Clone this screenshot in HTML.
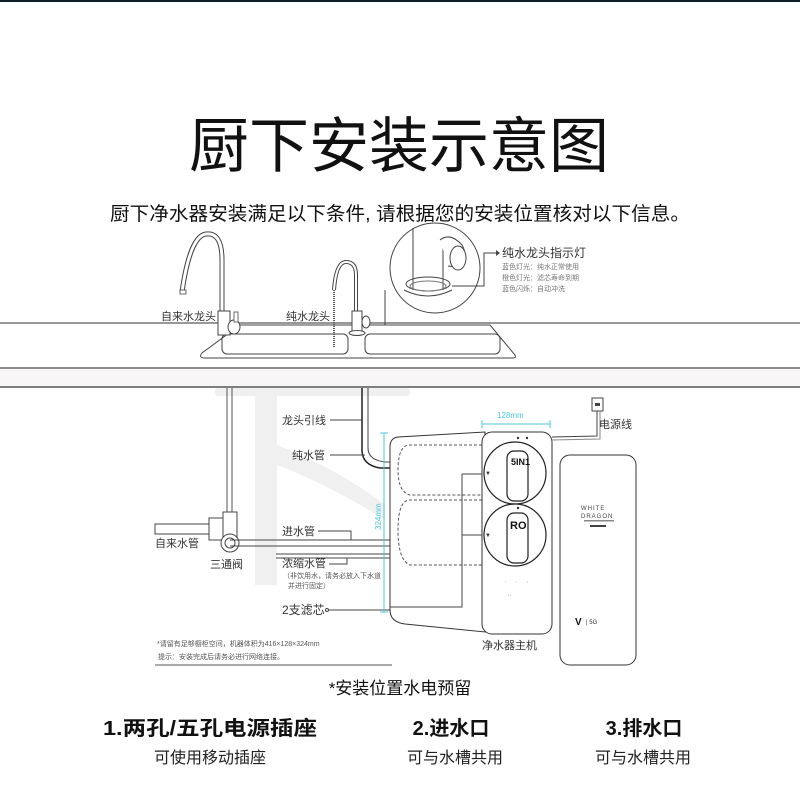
<!DOCTYPE html>
<html><head><meta charset="utf-8"><style>
html,body{margin:0;padding:0;background:#fff;}
svg{display:block;}
text{font-family:"Liberation Sans","Noto Sans CJK SC",sans-serif;}
</style></head><body>
<svg width="800" height="800" viewBox="0 0 800 800" xmlns="http://www.w3.org/2000/svg">
<rect width="800" height="800" fill="#fff"/>
<rect x="0" y="0" width="800" height="2" fill="#0d1f2a"/>
<text x="399" y="167" font-size="60" text-anchor="middle" fill="#111" textLength="420" lengthAdjust="spacingAndGlyphs">厨下安装示意图</text>
<text x="400" y="220" font-size="19" text-anchor="middle" fill="#111" textLength="580" lengthAdjust="spacingAndGlyphs">厨下净水器安装满足以下条件, 请根据您的安装位置核对以下信息。</text>

<!-- watermark 下 -->
<g fill="#f0f0f0">
<rect x="215" y="388" width="195" height="8" rx="3"/>
<rect x="255" y="390" width="22" height="195"/>
<path d="M277 445 Q340 470 385 505 L385 520 Q330 485 277 465 Z"/>
</g>

<!-- countertop -->
<line x1="0" y1="323" x2="800" y2="323" stroke="#777" stroke-width="1.5"/>
<rect x="0" y="368" width="800" height="19" fill="#f8f6f6"/>
<line x1="0" y1="368" x2="800" y2="368" stroke="#666" stroke-width="1.5"/>
<line x1="0" y1="387" x2="800" y2="387" stroke="#555" stroke-width="1.5"/>
<!-- sink -->
<path d="M240 325 L490 325 L515 355 Q517 358 512 358 L205 358 Q198 358 202 353 Z" fill="#fff" stroke="#444" stroke-width="1"/>
<rect x="222" y="334" width="126" height="20" rx="5" fill="none" stroke="#444" stroke-width="1"/>
<rect x="365" y="334" width="135" height="20" rx="5" fill="none" stroke="#444" stroke-width="1"/>
<!-- left faucet -->
<path d="M222 312 L222 260 Q222 232 206 234 Q190 236 182 292" fill="none" stroke="#444" stroke-width="5"/>
<path d="M222 312 L222 260 Q222 232 206 234 Q190 236 182 292" fill="none" stroke="#fff" stroke-width="3"/>
<rect x="180" y="290" width="6" height="4" fill="#fff" stroke="#444" stroke-width="0.8"/>
<rect x="218" y="311" width="12" height="24" fill="#fff" stroke="#444" stroke-width="1"/>
<ellipse cx="234" cy="327" rx="6" ry="7" fill="#fff" stroke="#444"/>
<rect x="234" y="312" width="4" height="10" fill="#fff" stroke="#444" stroke-width="0.8"/>
<text x="161" y="320" font-size="11" fill="#333">自来水龙头</text>
<!-- pure faucet -->
<path d="M356 312 L356 275 Q356 262 346 262 Q336 262 334 290" fill="none" stroke="#444" stroke-width="4"/>
<path d="M356 312 L356 275 Q356 262 346 262 Q336 262 334 290" fill="none" stroke="#fff" stroke-width="2"/>
<line x1="334" y1="290" x2="334" y2="347" stroke="#555" stroke-width="2" stroke-dasharray="1 1"/>
<rect x="352" y="311" width="10" height="20" fill="#fff" stroke="#444"/>
<ellipse cx="357" cy="333" rx="8" ry="2.5" fill="#fff" stroke="#444"/>
<ellipse cx="366" cy="322" rx="4" ry="6" fill="#fff" stroke="#444"/>
<text x="286" y="320" font-size="11" fill="#333">纯水龙头</text>
<!-- magnifier -->
<circle cx="435" cy="268" r="45" fill="#fff" stroke="#444" stroke-width="1"/>
<path d="M413 228 L413 290 M443 240 L443 290" stroke="#444" fill="none"/>
<path d="M440 240 Q450 232 462 245 Q468 255 462 268 L448 266" fill="#fff" stroke="#444"/>
<ellipse cx="458" cy="258" rx="8" ry="12" fill="#fff" stroke="#444"/>
<ellipse cx="428" cy="284" rx="22" ry="7" fill="none" stroke="#444"/>
<ellipse cx="428" cy="286" rx="18" ry="5" fill="none" stroke="#777"/>
<path d="M404 290 Q428 302 452 290" fill="none" stroke="#444"/>
<polyline points="385,290 385,325 380,325" fill="none" stroke="#444"/>
<polyline points="452,286 484,286 484,253 496,253" fill="none" stroke="#444"/>
<path d="M496 250 L500 253 L496 256 Z" fill="#444"/>
<text x="502" y="257" font-size="12" fill="#333">纯水龙头指示灯</text>
<text x="502" y="269" font-size="7" fill="#777">蓝色灯光：纯水正常使用</text>
<text x="502" y="280" font-size="7" fill="#777">橙色灯光：滤芯寿命到期</text>
<text x="502" y="291" font-size="7" fill="#777">蓝色闪烁：自动冲洗</text>

<!-- left water pipe -->
<line x1="227" y1="388" x2="227" y2="515" stroke="#555" stroke-width="1"/>
<line x1="232" y1="388" x2="232" y2="515" stroke="#555" stroke-width="1"/>
<rect x="155" y="524" width="55" height="10" fill="#fff" stroke="#444"/>
<rect x="209" y="518" width="16" height="22" fill="#fff" stroke="#444"/>
<rect x="223" y="512" width="14" height="26" fill="#fff" stroke="#444"/>
<circle cx="230" cy="543" r="9" fill="#fff" stroke="#444"/>
<circle cx="230" cy="543" r="5" fill="none" stroke="#444"/>
<text x="155" y="547" font-size="11" fill="#333">自来水管</text>
<text x="210" y="568" font-size="11" fill="#333">三通阀</text>
<!-- inlet pipe -->
<line x1="230" y1="540" x2="390" y2="540" stroke="#444"/>
<line x1="230" y1="546" x2="390" y2="546" stroke="#444"/>
<line x1="276" y1="554" x2="390" y2="554" stroke="#444"/>
<line x1="276" y1="558" x2="390" y2="558" stroke="#444"/>
<!-- faucet lead & pure pipe -->
<path d="M362 388 L362 450 Q362 465 380 468 L392 468" fill="none" stroke="#222" stroke-width="1.5"/>
<path d="M368 388 L368 448 Q368 460 385 462 L392 462" fill="none" stroke="#444" stroke-width="1"/>
<!-- labels -->
<text x="282" y="424" font-size="11" fill="#333">龙头引线</text>
<line x1="330" y1="420" x2="362" y2="420" stroke="#444"/>
<text x="292" y="459" font-size="11" fill="#333">纯水管</text>
<line x1="330" y1="455" x2="365" y2="455" stroke="#444"/>
<text x="282" y="535" font-size="11" fill="#333">进水管</text>
<polyline points="318,531 351,531 351,540" fill="none" stroke="#444"/>
<text x="282" y="567" font-size="11" fill="#333">浓缩水管</text>
<polyline points="329,564 347,564 347,558" fill="none" stroke="#444"/>
<text x="283" y="578" font-size="7" fill="#555">（非饮用水，请务必放入下水道</text>
<text x="288" y="588" font-size="7" fill="#555">并进行固定）</text>
<text x="282" y="614" font-size="12" fill="#333">2支滤芯</text>
<line x1="327" y1="610" x2="390" y2="610" stroke="#444"/>
<circle cx="327" cy="610" r="1.5" fill="#fff" stroke="#444"/>
<text x="157" y="646" font-size="7" fill="#555">*请留有足够橱柜空间，机器体积为416×128×324mm</text>
<text x="158" y="659" font-size="7" fill="#555">提示：安装完成后请务必进行网络连接。</text>
<line x1="155" y1="665" x2="392" y2="665" stroke="#555"/>

<!-- dimension lines -->
<line x1="384" y1="433" x2="384" y2="612" stroke="#4cc8d8"/>
<line x1="380" y1="433" x2="388" y2="433" stroke="#4cc8d8"/>
<line x1="380" y1="612" x2="388" y2="612" stroke="#4cc8d8"/>
<text x="0" y="0" font-size="8" fill="#4cc8d8" transform="translate(381 530) rotate(-90)">324mm</text>
<line x1="482" y1="424" x2="550" y2="424" stroke="#4cc8d8"/>
<line x1="482" y1="420" x2="482" y2="428" stroke="#4cc8d8"/>
<line x1="550" y1="420" x2="550" y2="428" stroke="#4cc8d8"/>
<text x="497" y="418" font-size="8" fill="#4cc8d8">128mm</text>
<line x1="391" y1="444" x2="484" y2="444" stroke="#4cc8d8"/>
<text x="420" y="452" font-size="8" fill="#4cc8d8">416mm</text>

<!-- machine body -->
<path d="M398 437 L485 432 L485 632 L405 624 Q390 622 390 610 L390 447 Q390 438 398 437 Z" fill="#fff" stroke="#333"/>
<path d="M487 445 L410 445 Q398 445 398 470 Q398 492 410 495 L487 495" fill="none" stroke="#555" stroke-dasharray="3 2"/>
<path d="M487 500 L410 500 Q398 500 398 530 Q398 560 410 565 L487 565" fill="none" stroke="#555" stroke-dasharray="3 2"/>
<polyline points="462,474 462,607 390,607" fill="none" stroke="#444"/>
<line x1="462" y1="474" x2="510" y2="474" stroke="#444"/>
<line x1="462" y1="535" x2="510" y2="535" stroke="#444"/>
<rect x="482" y="432" width="70" height="202" rx="10" fill="#fff" stroke="#333"/>
<circle cx="515" cy="473" r="31" fill="#fff" stroke="#222" stroke-width="1.2"/>
<circle cx="515" cy="535" r="31" fill="#fff" stroke="#222" stroke-width="1.2"/>
<rect x="507" y="451" width="21" height="50" rx="7" fill="#fff" stroke="#222" stroke-width="1.2"/>
<rect x="507" y="513" width="21" height="50" rx="7" fill="#fff" stroke="#222" stroke-width="1.2"/>
<text x="511" y="465" font-size="9" font-weight="bold" fill="#111">5IN1</text>
<text x="510" y="529" font-size="11" font-weight="bold" fill="#111">RO</text>
<circle cx="518" cy="438" r="1.2" fill="#333"/><circle cx="527" cy="438" r="1.2" fill="#333"/>
<circle cx="518" cy="508" r="1.2" fill="#333"/>
<text x="485" y="475" font-size="6" fill="#333">▼</text>
<text x="485" y="537" font-size="6" fill="#333">▼</text>
<g fill="#999" font-size="3"><text x="505" y="583">▪</text><text x="516" y="583">▪</text><text x="527" y="583">▪</text><text x="508" y="596">▪ ▪</text></g>
<text x="482" y="649" font-size="11" fill="#333">净水器主机</text>

<!-- power -->
<rect x="592" y="398" width="11" height="13" fill="#fff" stroke="#444"/>
<rect x="595" y="403" width="5" height="3" fill="#444"/>
<path d="M597 411 L597 436 L552 437" fill="none" stroke="#444"/>
<path d="M600 411 L600 439 L552 440" fill="none" stroke="#888"/>
<text x="599" y="428" font-size="11" fill="#333">电源线</text>

<!-- side device -->
<rect x="560" y="455" width="76" height="210" rx="10" fill="#fff" stroke="#333"/>
<text x="581" y="510" font-size="6" fill="#444" letter-spacing="1">WHITE</text>
<text x="581" y="518" font-size="6" fill="#444" letter-spacing="1">DRAGON</text>
<rect x="584" y="520" width="30" height="1.5" fill="#888"/>
<rect x="590" y="525" width="16" height="2" fill="#444"/>
<text x="575" y="625" font-size="10" font-weight="bold" fill="#111">V</text>
<text x="586" y="624" font-size="6" fill="#333">| 5G</text>

<!-- bottom -->
<text x="400" y="694" font-size="17" text-anchor="middle" fill="#111">*安装位置水电预留</text>
<text x="210" y="735" font-size="20" font-weight="bold" text-anchor="middle" fill="#111" textLength="214" lengthAdjust="spacingAndGlyphs">1.两孔/五孔电源插座</text>
<text x="451" y="735" font-size="20" font-weight="bold" text-anchor="middle" fill="#111">2.进水口</text>
<text x="644" y="735" font-size="20" font-weight="bold" text-anchor="middle" fill="#111">3.排水口</text>
<text x="210" y="763" font-size="16" text-anchor="middle" fill="#222">可使用移动插座</text>
<text x="455" y="763" font-size="16" text-anchor="middle" fill="#222">可与水槽共用</text>
<text x="643" y="763" font-size="16" text-anchor="middle" fill="#222">可与水槽共用</text>
</svg>
</body></html>
